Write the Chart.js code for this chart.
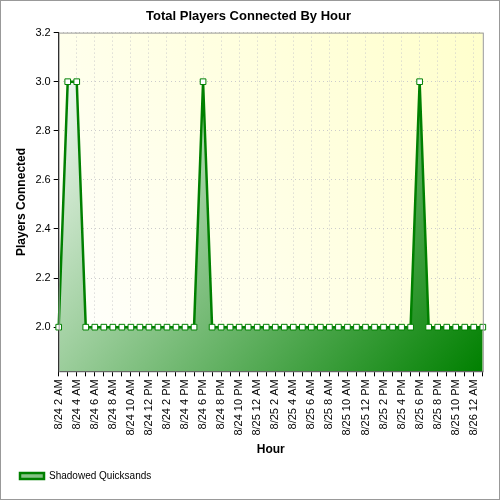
<!DOCTYPE html>
<html>
<head>
<script src="https://cdn.jsdelivr.net/npm/chart.js@4"></script>
<style>
body { margin: 0; background: #fff; }
#wrap { width: 500px; height: 500px; position: relative; box-sizing: border-box; border: 1px solid #999; }
</style>
</head>
<body>
<div id="wrap"><canvas id="playersChart" width="498" height="498"></canvas></div>
<script>
// hourly labels from 8/24 2 AM to 8/26 1 AM
const hourLabels = [
  "8/24 2 AM", "8/24 3 AM", "8/24 4 AM", "8/24 5 AM", "8/24 6 AM", "8/24 7 AM",
  "8/24 8 AM", "8/24 9 AM", "8/24 10 AM", "8/24 11 AM", "8/24 12 PM", "8/24 1 PM",
  "8/24 2 PM", "8/24 3 PM", "8/24 4 PM", "8/24 5 PM", "8/24 6 PM", "8/24 7 PM",
  "8/24 8 PM", "8/24 9 PM", "8/24 10 PM", "8/24 11 PM", "8/25 12 AM", "8/25 1 AM",
  "8/25 2 AM", "8/25 3 AM", "8/25 4 AM", "8/25 5 AM", "8/25 6 AM", "8/25 7 AM",
  "8/25 8 AM", "8/25 9 AM", "8/25 10 AM", "8/25 11 AM", "8/25 12 PM", "8/25 1 PM",
  "8/25 2 PM", "8/25 3 PM", "8/25 4 PM", "8/25 5 PM", "8/25 6 PM", "8/25 7 PM",
  "8/25 8 PM", "8/25 9 PM", "8/25 10 PM", "8/25 11 PM", "8/26 12 AM", "8/26 1 AM"
];

const playerCounts = [
  2, 3, 3, 2, 2, 2, 2, 2, 2, 2, 2, 2, 2, 2, 2, 2, 3, 2, 2, 2, 2, 2, 2, 2,
  2, 2, 2, 2, 2, 2, 2, 2, 2, 2, 2, 2, 2, 2, 2, 2, 3, 2, 2, 2, 2, 2, 2, 2
];

const yTicks = [2.0, 2.2, 2.4, 2.6, 2.8, 3.0, 3.2];

// plot background: pale yellow gradient
const plotBg = {
  id: "plotBg",
  beforeDraw(chart) {
    const { ctx, chartArea: a } = chart;
    const g = ctx.createLinearGradient(a.left, a.bottom, a.right, a.top);
    g.addColorStop(0, "#ffffff");
    g.addColorStop(1, "#ffffcc");
    ctx.save();
    ctx.fillStyle = g;
    ctx.fillRect(a.left, a.top, a.right - a.left, a.bottom - a.top);
    ctx.restore();
  },
  afterDraw(chart) {
    const { ctx, chartArea: a } = chart;
    ctx.save();
    ctx.strokeStyle = "#999";
    ctx.lineWidth = 1;
    ctx.strokeRect(a.left + 0.5, a.top + 0.5, a.right - a.left, a.bottom - a.top);
    ctx.restore();
  }
};

let ctx = document.getElementById("playersChart").getContext("2d");
var chart = new Chart(ctx, {
  type: "line",
  data: {
    labels: hourLabels,
    datasets: [
      {
        label: "Shadowed Quicksands",
        data: playerCounts,
        borderColor: "#008000",
        borderWidth: 2.5,
        tension: 0,
        fill: "start",
        backgroundColor: (c) => {
          const a = c.chart.chartArea;
          if (!a) return "rgba(0,128,0,0.5)";
          const g = c.chart.ctx.createLinearGradient(a.left, a.top, a.right, a.bottom);
          g.addColorStop(0, "#ffffff");
          g.addColorStop(1, "#008000");
          return g;
        },
        pointStyle: "rect",
        pointRadius: 4,
        pointBackgroundColor: "#ffffff",
        pointBorderColor: "#008000",
        pointBorderWidth: 1,
      },
    ],
  },
  options: {
    responsive: false,
    animation: false,
    layout: { padding: { left: 9, right: 12, top: 0, bottom: 8 } },
    plugins: {
      title: {
        display: true,
        text: "Total Players Connected By Hour",
        color: "#000",
        font: { family: "Liberation Sans", size: 13, weight: "bold" },
        padding: { top: 8, bottom: 8 },
      },
      legend: {
        position: "bottom",
        align: "start",
        labels: {
          color: "#000",
          font: { family: "Liberation Sans", size: 10 },
          boxWidth: 24,
          boxHeight: 6,
        },
      },
      tooltip: { enabled: false },
    },
    scales: {
      x: {
        offset: false,
        grid: {
          color: (c) => (c.index % 2 === 0 ? "#ccc" : "rgba(0,0,0,0)"),
          tickColor: "#000",
          tickLength: 5,
        },
        border: { color: "#000", dash: [1, 3] },
        ticks: {
          color: "#000",
          font: { family: "Liberation Sans", size: 11 },
          maxRotation: 90,
          minRotation: 90,
          autoSkip: false,
          callback: (v, i) => (i % 2 === 0 ? hourLabels[i] : ""),
        },
        title: {
          display: true,
          text: "Hour",
          color: "#000",
          font: { family: "Liberation Sans", size: 12, weight: "bold" },
        },
      },
      y: {
        min: 1.82,
        max: 3.2,
        afterBuildTicks: (s) => { s.ticks = yTicks.map((v) => ({ value: v })); },
        grid: { color: "#ccc", tickColor: "#000", tickLength: 5 },
        border: { color: "#000", dash: [1, 3] },
        ticks: {
          color: "#000",
          font: { family: "Liberation Sans", size: 11 },
          callback: (v) => v.toFixed(1),
        },
        title: {
          display: true,
          text: "Players Connected",
          color: "#000",
          font: { family: "Liberation Sans", size: 12, weight: "bold" },
        },
      },
    },
  },
  plugins: [plotBg],
});
</script>
</body>
</html>
